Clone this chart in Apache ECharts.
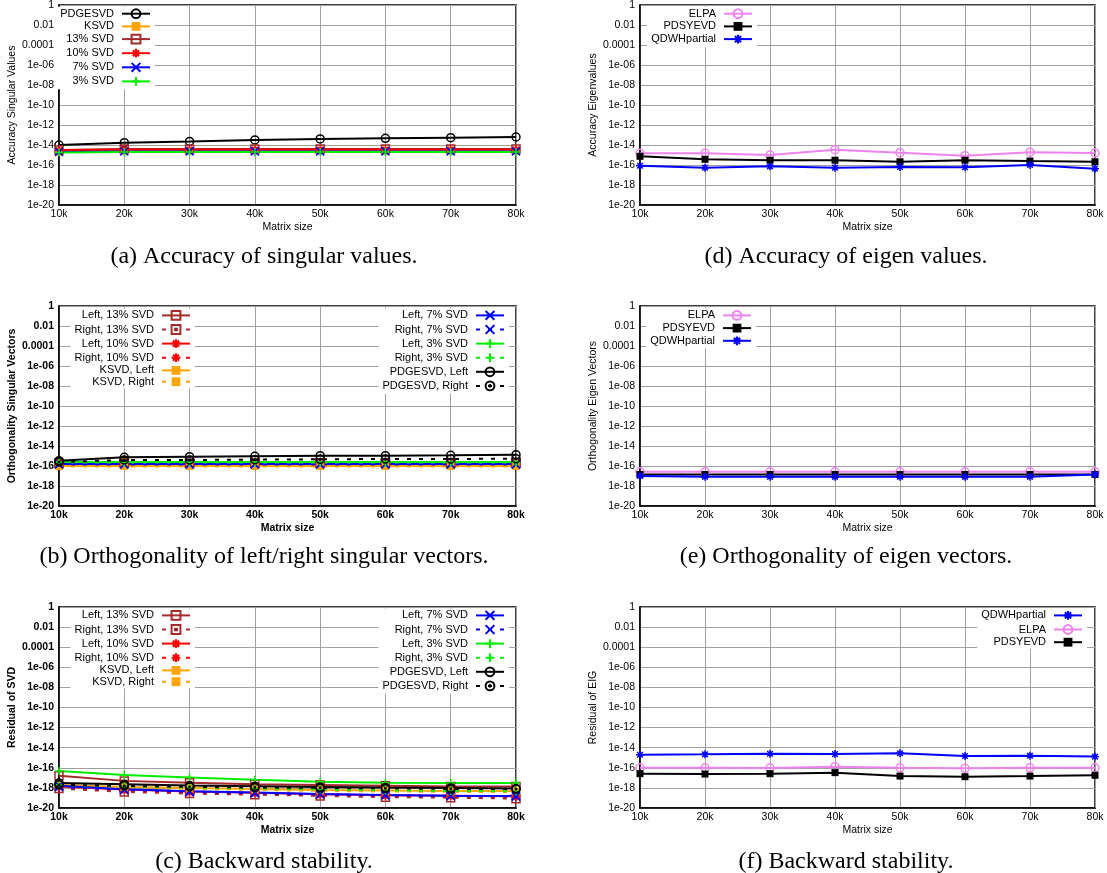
<!DOCTYPE html>
<html>
<head>
<meta charset="utf-8">
<script src="https://cdn.jsdelivr.net/npm/echarts@6/dist/echarts.min.js"></script>
<style>
html,body{margin:0;padding:0;background:#fff;}
#chart{width:1107px;height:873px;}
</style>
</head>
<body>
<div id="chart"></div>
<script>
// ---------- shared axis data ----------
const matrixSizes = ['10k','20k','30k','40k','50k','60k','70k','80k'];
const yTickExponents = [-20,-18,-16,-14,-12,-10,-8,-6,-4,-2,0];
const yTickLabels = ['1e-20','1e-18','1e-16','1e-14','1e-12','1e-10','1e-08','1e-06','0.0001','0.01','1'];

// ---------- (a) Accuracy of singular values ----------
const accSV_PDGESVD = [1.0e-14, 1.7e-14, 2.3e-14, 3.2e-14, 4.0e-14, 4.7e-14, 5.4e-14, 6.3e-14];
const accSV_KSVD    = [2.0e-15, 2.5e-15, 2.5e-15, 2.5e-15, 2.5e-15, 2.5e-15, 2.5e-15, 2.5e-15];
const accSV_13      = [3.2e-15, 4.0e-15, 4.0e-15, 4.0e-15, 4.0e-15, 4.0e-15, 4.0e-15, 4.0e-15];
const accSV_10      = [3.0e-15, 3.5e-15, 3.5e-15, 3.5e-15, 3.5e-15, 3.5e-15, 3.5e-15, 3.5e-15];
const accSV_7       = [2.0e-15, 2.2e-15, 2.3e-15, 2.3e-15, 2.3e-15, 2.3e-15, 2.3e-15, 2.3e-15];
const accSV_3       = [1.8e-15, 2.0e-15, 2.0e-15, 2.0e-15, 2.0e-15, 2.0e-15, 2.0e-15, 2.0e-15];

// ---------- (b) Orthogonality of singular vectors ----------
const orthSV_L13  = [2.0e-16, 2.0e-16, 2.0e-16, 2.0e-16, 2.0e-16, 2.0e-16, 2.0e-16, 2.0e-16];
const orthSV_R13  = [1.8e-16, 1.8e-16, 1.8e-16, 1.8e-16, 1.8e-16, 1.8e-16, 1.8e-16, 1.8e-16];
const orthSV_L10  = [2.0e-16, 1.9e-16, 1.9e-16, 1.9e-16, 1.9e-16, 1.9e-16, 1.9e-16, 1.9e-16];
const orthSV_R10  = [1.8e-16, 1.7e-16, 1.7e-16, 1.7e-16, 1.7e-16, 1.7e-16, 1.7e-16, 1.7e-16];
const orthSV_KL   = [1.0e-16, 1.0e-16, 1.0e-16, 1.0e-16, 1.0e-16, 1.0e-16, 1.0e-16, 1.0e-16];
const orthSV_KR   = [9.0e-17, 9.0e-17, 9.0e-17, 9.0e-17, 9.0e-17, 9.0e-17, 9.0e-17, 9.0e-17];
const orthSV_L7   = [1.6e-16, 1.6e-16, 1.6e-16, 1.6e-16, 1.6e-16, 1.6e-16, 1.6e-16, 1.6e-16];
const orthSV_R7   = [1.4e-16, 1.4e-16, 1.4e-16, 1.4e-16, 1.4e-16, 1.4e-16, 1.4e-16, 1.4e-16];
const orthSV_L3   = [2.5e-16, 2.5e-16, 2.5e-16, 2.5e-16, 2.5e-16, 2.5e-16, 2.5e-16, 2.5e-16];
const orthSV_R3   = [2.2e-16, 2.2e-16, 2.2e-16, 2.2e-16, 2.2e-16, 2.2e-16, 2.2e-16, 2.2e-16];
const orthSV_PL   = [3.4e-16, 7.4e-16, 8.5e-16, 9.3e-16, 1.07e-15, 1.07e-15, 1.17e-15, 1.35e-15];
const orthSV_PR   = [2.5e-16, 4.0e-16, 4.0e-16, 4.3e-16, 4.7e-16, 5.0e-16, 5.0e-16, 5.4e-16];

// ---------- (c) Backward stability SVD ----------
const resSV_L13 = [1.6e-17, 5.0e-18, 3.2e-18, 2.3e-18, 1.9e-18, 1.6e-18, 1.35e-18, 1.35e-18];
const resSV_R13 = [8.5e-19, 4.0e-19, 2.7e-19, 2.1e-19, 1.6e-19, 1.2e-19, 1.07e-19, 8.5e-20];
const resSV_L10 = [1.4e-18, 7.1e-19, 4.5e-19, 3.2e-19, 2.4e-19, 1.9e-19, 1.7e-19, 1.5e-19];
const resSV_R10 = [1.1e-18, 5.6e-19, 3.5e-19, 2.6e-19, 2.0e-19, 1.6e-19, 1.4e-19, 1.26e-19];
const resSV_KL  = [2.0e-18, 1.26e-18, 1.0e-18, 7.9e-19, 6.3e-19, 5.6e-19, 5.0e-19, 5.0e-19];
const resSV_KR  = [1.6e-18, 1.0e-18, 7.9e-19, 6.3e-19, 5.0e-19, 4.5e-19, 4.0e-19, 4.0e-19];
const resSV_L7  = [1.6e-18, 7.4e-19, 4.7e-19, 3.4e-19, 2.5e-19, 2.0e-19, 1.7e-19, 1.6e-19];
const resSV_R7  = [1.26e-18, 6.3e-19, 4.0e-19, 3.0e-19, 2.2e-19, 1.8e-19, 1.6e-19, 1.4e-19];
const resSV_L3  = [4.7e-17, 1.9e-17, 1.07e-17, 6.3e-18, 4.0e-18, 3.2e-18, 3.0e-18, 3.0e-18];
const resSV_R3  = [2.0e-18, 1.4e-18, 1.1e-18, 8.9e-19, 7.1e-19, 5.6e-19, 5.0e-19, 4.7e-19];
const resSV_PL  = [3.0e-18, 2.3e-18, 1.7e-18, 1.5e-18, 1.26e-18, 1.07e-18, 1.0e-18, 8.5e-19];
const resSV_PR  = [2.0e-18, 1.6e-18, 1.26e-18, 1.1e-18, 1.0e-18, 8.9e-19, 7.9e-19, 7.6e-19];

// ---------- (d) Accuracy of eigenvalues ----------
const accEV_ELPA    = [1.5e-15, 1.5e-15, 1.0e-15, 3.4e-15, 1.7e-15, 8.5e-16, 1.9e-15, 1.6e-15];
const accEV_PDSYEVD = [7.4e-16, 3.7e-16, 3.0e-16, 3.0e-16, 2.1e-16, 3.0e-16, 2.5e-16, 2.1e-16];
const accEV_QDWH    = [8.5e-17, 5.4e-17, 7.4e-17, 5.4e-17, 6.3e-17, 5.9e-17, 1.0e-16, 4.3e-17];

// ---------- (e) Orthogonality of eigenvectors ----------
const orthEV_ELPA    = [2.6e-17, 2.6e-17, 2.6e-17, 2.6e-17, 2.6e-17, 2.6e-17, 2.6e-17, 2.6e-17];
const orthEV_PDSYEVD = [1.4e-17, 1.4e-17, 1.4e-17, 1.4e-17, 1.4e-17, 1.4e-17, 1.4e-17, 1.4e-17];
const orthEV_QDWH    = [1.0e-17, 8.3e-18, 8.3e-18, 8.3e-18, 8.3e-18, 8.3e-18, 8.3e-18, 1.4e-17];

// ---------- (f) Backward stability EIG ----------
const resEV_QDWH    = [2.0e-15, 2.2e-15, 2.5e-15, 2.3e-15, 2.8e-15, 1.5e-15, 1.6e-15, 1.3e-15];
const resEV_ELPA    = [1.0e-16, 1.0e-16, 9.5e-17, 1.3e-16, 1.0e-16, 8.9e-17, 1.0e-16, 1.0e-16];
const resEV_PDSYEVD = [2.6e-17, 2.4e-17, 2.6e-17, 3.3e-17, 1.5e-17, 1.3e-17, 1.5e-17, 1.8e-17];

const captions = [
  '(a) Accuracy of singular values.',
  '(b) Orthogonality of left/right singular vectors.',
  '(c) Backward stability.',
  '(d) Accuracy of eigen values.',
  '(e) Orthogonality of eigen vectors.',
  '(f) Backward stability.'
];
const yNames = ['Accuracy Singular Values','Orthogonality Singular Vectors','Residual of SVD',
                'Accuracy Eigenvalues','Orthogonality Eigen Vectors','Residual of EIG'];

// ---------- styling ----------
const COL = {black:'#000000', orange:'#FFA500', brown:'#A52A2A', red:'#FF0000', blue:'#0000FF', green:'#00EE00', violet:'#EE82EE'};
const SYM = {
  circle:    'path://M10,5A5,5,0,1,1,0,5A5,5,0,1,1,10,5Z',
  dotCircle: 'path://M10,5A5,5,0,1,1,0,5A5,5,0,1,1,10,5Z M5.9,5A0.9,0.9,0,1,1,4.1,5A0.9,0.9,0,1,1,5.9,5Z',
  square:    'path://M0,0L10,0L10,10L0,10Z',
  dotSquare: 'path://M0,0L10,0L10,10L0,10Z M4.1,4.1L5.9,4.1L5.9,5.9L4.1,5.9Z',
  cross:     'path://M0,0L10,10M0,10L10,0',
  plus:      'path://M5,0L5,10M0,5L10,5',
  star:      'path://M5,0L5,10M0,5L10,5M1.5,1.5L8.5,8.5M1.5,8.5L8.5,1.5',
  rect:      'rect'
};
const FONT = 'Liberation Sans';

// grid order: a, b, c, d, e, f
const GRIDS = [
  {left:59,  top:5,   width:457, height:200},
  {left:59,  top:306, width:457, height:200},
  {left:59,  top:607, width:457, height:201},
  {left:640, top:5,   width:455, height:200},
  {left:640, top:306, width:455, height:200},
  {left:640, top:607, width:455, height:201}
];
const BOLD = [false, true, true, false, false, false];
const CAPTION_POS = [[264,257],[264,557],[264,862],[846,257],[846,557],[846,862]];

function line(name, gi, data, color, sym, dashed) {
  const filled = sym === 'rect';
  return {
    type:'line', name, xAxisIndex:gi, yAxisIndex:gi, data,
    symbol: SYM[sym], symbolSize: filled ? 7 : 8, showAllSymbol:true,
    lineStyle:{color, width:2, type: dashed ? [4,8] : 'solid'},
    itemStyle:{color: filled ? color : 'none', borderColor: color, borderWidth: filled ? 0 : 1.5},
    emphasis:{disabled:true}, silent:true
  };
}

const series = [
  // (a)
  line('PDGESVD', 0, accSV_PDGESVD, COL.black, 'circle'),
  line('KSVD', 0, accSV_KSVD, COL.orange, 'rect'),
  line('13% SVD', 0, accSV_13, COL.brown, 'square'),
  line('10% SVD', 0, accSV_10, COL.red, 'star'),
  line('7% SVD', 0, accSV_7, COL.blue, 'cross'),
  line('3% SVD', 0, accSV_3, COL.green, 'plus'),
  // (b)
  line('Left, 13% SVD', 1, orthSV_L13, COL.brown, 'square'),
  line('Right, 13% SVD', 1, orthSV_R13, COL.brown, 'dotSquare', true),
  line('Left, 10% SVD', 1, orthSV_L10, COL.red, 'star'),
  line('Right, 10% SVD', 1, orthSV_R10, COL.red, 'star', true),
  line('KSVD, Left', 1, orthSV_KL, COL.orange, 'rect'),
  line('KSVD, Right', 1, orthSV_KR, COL.orange, 'rect', true),
  line('Left, 7% SVD', 1, orthSV_L7, COL.blue, 'cross'),
  line('Right, 7% SVD', 1, orthSV_R7, COL.blue, 'cross', true),
  line('Left, 3% SVD', 1, orthSV_L3, COL.green, 'plus'),
  line('Right, 3% SVD', 1, orthSV_R3, COL.green, 'plus', true),
  line('PDGESVD, Left', 1, orthSV_PL, COL.black, 'circle'),
  line('PDGESVD, Right', 1, orthSV_PR, COL.black, 'dotCircle', true),
  // (c)
  line('Left, 13% SVD', 2, resSV_L13, COL.brown, 'square'),
  line('Right, 13% SVD', 2, resSV_R13, COL.brown, 'dotSquare', true),
  line('Left, 10% SVD', 2, resSV_L10, COL.red, 'star'),
  line('Right, 10% SVD', 2, resSV_R10, COL.red, 'star', true),
  line('KSVD, Left', 2, resSV_KL, COL.orange, 'rect'),
  line('KSVD, Right', 2, resSV_KR, COL.orange, 'rect', true),
  line('Left, 7% SVD', 2, resSV_L7, COL.blue, 'cross'),
  line('Right, 7% SVD', 2, resSV_R7, COL.blue, 'cross', true),
  line('Left, 3% SVD', 2, resSV_L3, COL.green, 'plus'),
  line('Right, 3% SVD', 2, resSV_R3, COL.green, 'plus', true),
  line('PDGESVD, Left', 2, resSV_PL, COL.black, 'circle'),
  line('PDGESVD, Right', 2, resSV_PR, COL.black, 'dotCircle', true),
  // (d)
  line('ELPA', 3, accEV_ELPA, COL.violet, 'circle'),
  line('PDSYEVD', 3, accEV_PDSYEVD, COL.black, 'rect'),
  line('QDWHpartial', 3, accEV_QDWH, COL.blue, 'star'),
  // (e)
  line('ELPA', 4, orthEV_ELPA, COL.violet, 'circle'),
  line('PDSYEVD', 4, orthEV_PDSYEVD, COL.black, 'rect'),
  line('QDWHpartial', 4, orthEV_QDWH, COL.blue, 'star'),
  // (f)
  line('QDWHpartial', 5, resEV_QDWH, COL.blue, 'star'),
  line('ELPA', 5, resEV_ELPA, COL.violet, 'circle'),
  line('PDSYEVD', 5, resEV_PDSYEVD, COL.black, 'rect')
];

function legend(names, right, top) {
  return {
    data: names, orient:'vertical', align:'right', right, top,
    itemWidth:28, itemHeight:11, itemGap:0.3, padding:[0,4,1,4],
    backgroundColor:'#ffffff', selectedMode:false,
    textStyle:{fontFamily:FONT, fontSize:11, color:'#000', padding:[0,3,0,0]}
  };
}
const legends = [
  legend(['PDGESVD','KSVD','13% SVD','10% SVD','7% SVD','3% SVD'], 952, 6.8),
  legend(['Left, 13% SVD','Right, 13% SVD','Left, 10% SVD','Right, 10% SVD','KSVD, Left','KSVD, Right'], 912, 308.5),
  legend(['Left, 7% SVD','Right, 7% SVD','Left, 3% SVD','Right, 3% SVD','PDGESVD, Left','PDGESVD, Right'], 598, 308.5),
  legend(['Left, 13% SVD','Right, 13% SVD','Left, 10% SVD','Right, 10% SVD','KSVD, Left','KSVD, Right'], 912, 608.5),
  legend(['Left, 7% SVD','Right, 7% SVD','Left, 3% SVD','Right, 3% SVD','PDGESVD, Left','PDGESVD, Right'], 598, 608.5),
  legend(['ELPA','PDSYEVD','QDWHpartial'], 350, 6.8),
  legend(['ELPA','PDSYEVD','QDWHpartial'], 351, 308.5),
  legend(['QDWHpartial','ELPA','PDSYEVD'], 20, 608.5)
];

function yFmt(v) {
  const e = Math.round(Math.log10(v));
  const i = yTickExponents.indexOf(e);
  return i >= 0 ? yTickLabels[i] : '';
}

const option = {
  animation:false,
  backgroundColor:'#ffffff',
  grid: GRIDS.map(g => Object.assign({show:true, borderColor:'#000', borderWidth:1.5, backgroundColor:'transparent', outerBoundsMode:'none', containLabel:false}, g)),
  xAxis: GRIDS.map((g,i) => ({
    type:'category', gridIndex:i, data:matrixSizes, boundaryGap:false,
    axisLine:{show:true, lineStyle:{color:'#000', width:1.5}}, axisTick:{show:false},
    axisLabel:{color:'#000', fontFamily:FONT, fontSize:10.5, margin:4, interval:0, fontWeight: BOLD[i] ? 'bold' : 'normal'},
    splitLine:{show:true, lineStyle:{color:'#a0a0a0', width:1}},
    name:'Matrix size', nameLocation:'middle', nameGap:17,
    nameTextStyle:{color:'#000', fontFamily:FONT, fontSize:10.5, fontWeight: BOLD[i] ? 'bold' : 'normal'}
  })),
  yAxis: GRIDS.map((g,i) => ({
    type:'log', logBase:10, gridIndex:i, min:1e-20, max:1, interval:2, splitNumber:10,
    axisLine:{show:true, lineStyle:{color:'#000', width:1.5}}, axisTick:{show:false},
    axisLabel:{formatter:yFmt, color:'#000', fontFamily:FONT, fontSize:10.5, margin:5, showMinLabel:true, showMaxLabel:true, fontWeight: BOLD[i] ? 'bold' : 'normal'},
    splitLine:{show:true, lineStyle:{color:'#a0a0a0', width:1}},
    name:yNames[i], nameLocation:'middle', nameGap:39,
    nameTextStyle:{color:'#000', fontFamily:FONT, fontSize:10.5, fontWeight: BOLD[i] ? 'bold' : 'normal'}
  })),
  legend: legends,
  series,
  graphic: captions.map((t,i) => ({
    type:'text', x:CAPTION_POS[i][0], y:CAPTION_POS[i][1], silent:true,
    style:{text:t, font:'24px "Liberation Serif"', fill:'#000', align:'center', verticalAlign:'middle'}
  }))
};

const chart = echarts.init(document.getElementById('chart'), null, {renderer:'canvas'});
chart.setOption(option);
</script>
</body>
</html>
